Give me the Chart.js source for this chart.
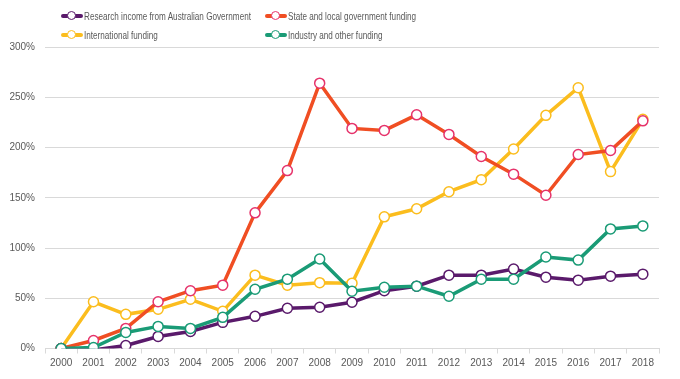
<!DOCTYPE html>
<html>
<head>
<meta charset="utf-8">
<script src="https://cdn.jsdelivr.net/npm/chart.js@4.4.1/dist/chart.umd.min.js"></script>
<style>
  html, body { margin: 0; padding: 0; background: #fff; }
  #wrap { position: relative; width: 680px; height: 379px; }
  #legend { position: absolute; left: 0; top: 0; width: 680px; height: 45px;
    font-family: 'Liberation Sans', Arial, sans-serif; font-size: 11px; color: #595959; }
  .lg { position: absolute; display: flex; align-items: center; white-space: nowrap; }
  .mk { position: relative; width: 22px; height: 10px; margin-right: 1px; flex: none; }
  .mk .ln { position: absolute; left: 0; right: 0; top: 3px; height: 4px; border-radius: 2px; }
  .mk .dt { position: absolute; left: 6px; top: 0; width: 7px; height: 7px; border-radius: 50%;
    background: #fff; border: 1.5px solid; }
  /* texto estrecho tipo Calibri */
  .tx { display: inline-block; transform: scaleX(0.74); transform-origin: left center; }
</style>
</head>
<body>
<div id="wrap">
  <canvas id="c" width="680" height="379"></canvas>
  <div id="legend"></div>
</div>
<script>
// ── Datos (lectura del gráfico original, % de crecimiento desde 2000) ──
const YEARS = ['2000','2001','2002','2003','2004','2005','2006','2007','2008','2009',
  '2010','2011','2012','2013','2014','2015','2016','2017','2018'];

const AUS_GOV = [0, -1.5, 3, 12, 17, 26, 32, 40, 41, 46, 57.5, 62, 73, 73, 79, 71, 68, 72, 74];
const STATE_LOCAL = [0, 8, 20, 46.5, 57.5, 63, 135, 177, 264, 219, 217, 232.5, 213, 191, 173.5, 152.5, 193, 197, 226.5];
const INTERNATIONAL = [0, 46.5, 34, 39, 49, 37, 73, 63, 65.5, 65, 131, 139, 156, 168, 198.5, 232, 259.5, 176, 228];
const INDUSTRY = [0, 1, 16, 22, 20, 31, 59, 69, 89, 57, 61, 62, 52, 69, 69, 91, 88, 119, 122];

const Y_TICKS = [0, 50, 100, 150, 200, 250, 300];

const FONT = "'Liberation Sans', Arial, sans-serif";

const SERIES = [
  { label: 'Research income from Australian Government', data: AUS_GOV, line: '#5a1a6b', pt: '#5a1a6b', lx: 61, ly: 17 },
  { label: 'State and local government funding', data: STATE_LOCAL, line: '#f04e23', pt: '#e6336b', lx: 265, ly: 17 },
  { label: 'International funding', data: INTERNATIONAL, line: '#fbbd1e', pt: '#fbbd1e', lx: 61, ly: 36 },
  { label: 'Industry and other funding', data: INDUSTRY, line: '#1a9b76', pt: '#1a9b76', lx: 265, ly: 36 }
];

// Leyenda en HTML (dos columnas, como el original)
document.getElementById('legend').innerHTML = SERIES.map(s =>
  `<div class="lg" style="left:${s.lx}px;top:${s.ly - 7}px">
    <span class="mk"><span class="ln" style="background:${s.line}"></span><span class="dt" style="border-color:${s.pt}"></span></span>
    <span class="tx">${s.label}</span>
  </div>`).join('');

// Orden de dibujo: el último queda encima
const drawOrder = [1, 2, 3, 0];

new Chart(document.getElementById('c').getContext('2d'), {
  type: 'line',
  data: {
    labels: YEARS,
    datasets: SERIES.map((s, i) => ({
      label: s.label,
      data: s.data,
      borderColor: s.line,
      backgroundColor: s.line,
      borderWidth: 3.5,
      tension: 0,
      pointRadius: 5,
      pointBorderWidth: 1.5,
      pointBackgroundColor: '#fff',
      pointBorderColor: s.pt,
      order: drawOrder[i]
    }))
  },
  options: {
    responsive: false,
    animation: false,
    layout: { padding: { top: 47, right: 21, left: 0, bottom: 0 } },
    plugins: { legend: { display: false }, tooltip: { enabled: false } },
    scales: {
      x: {
        offset: true,
        grid: { display: true, drawOnChartArea: false, offset: true, color: '#d9d9d9', tickLength: 5 },
        border: { color: '#d9d9d9' },
        ticks: { color: '#595959', font: { family: FONT, size: 10 }, padding: 4, maxRotation: 0, autoSkip: false },
        afterFit: sc => { sc.height = 30.5; }
      },
      y: {
        min: 0, max: 300,
        afterBuildTicks: sc => { sc.ticks = Y_TICKS.map(v => ({ value: v })); },
        grid: { color: '#d9d9d9', drawTicks: false },
        border: { display: false },
        ticks: { color: '#595959', font: { family: FONT, size: 10 }, padding: 10, callback: v => v + '%' },
        afterFit: sc => { sc.width = 45; }
      }
    }
  }
});
</script>
</body>
</html>
